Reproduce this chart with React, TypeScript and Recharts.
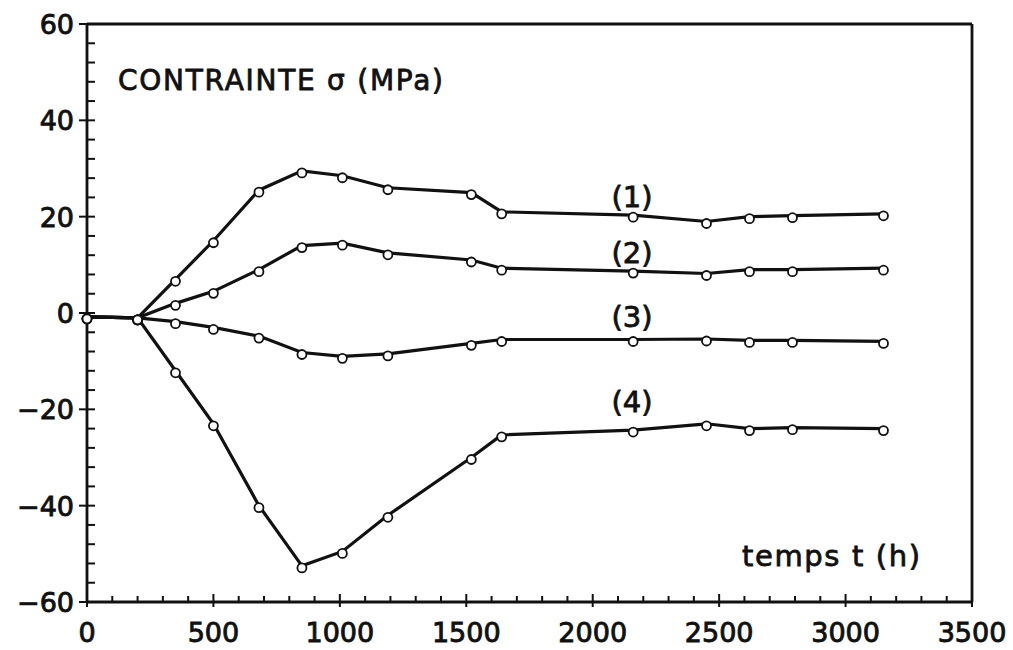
import { LineChart, Line, XAxis, YAxis, ReferenceLine } from "recharts";

// temps t (h)
const times = [0, 200, 350, 500, 680, 850, 1010, 1190, 1520, 1640, 2160, 2450, 2620, 2790, 3150];
// contrainte (MPa) for the four curves
const curve1 = [-0.8, -1, 7, 15, 25.5, 29.5, 28.5, 26, 25, 21, 20.3, 19, 20, 20.2, 20.6];
const curve2 = [-0.8, -1, 2, 4.5, 9, 14, 14.5, 12.5, 11, 9.3, 8.7, 8.2, 9, 9, 9.3];
const curve3 = [-0.8, -1, -1.8, -3, -4.8, -8.2, -9, -8.5, -6.3, -5.5, -5.5, -5.4, -5.7, -5.7, -5.9];
const curve4 = [-0.8, -1, -12, -23, -40, -52.5, -49.5, -42, -30, -25.3, -24.3, -23, -24, -23.8, -24];

const xMajor = [0, 500, 1000, 1500, 2000, 2500, 3000, 3500];
const yMajor = [-60, -40, -20, 0, 20, 40, 60];
const xTicks = Array.from({ length: 36 }, (_, i) => i * 100);
const yTicks = Array.from({ length: 31 }, (_, i) => -60 + i * 4);

const data = times.map((t, i) => ({
  t,
  c1: curve1[i],
  c2: curve2[i],
  c3: curve3[i],
  c4: curve4[i],
}));

const FONT = "'DejaVu Sans', sans-serif";
const INK = "#111";

const fmt = (v: number) => (v < 0 ? `\u2212${Math.abs(v)}` : `${v}`);

const XTick = ({ x, y, payload }: any) => {
  const major = xMajor.includes(payload.value);
  return (
    <g>
      <line x1={x} x2={x} y1={major ? y + 5 : y} y2={major ? y - 8 : y - 6} stroke={INK} strokeWidth={2} />
      {major && (
        <text x={x} y={y + 40} textAnchor="middle" fontFamily={FONT} fontSize={27} fill={INK} stroke={INK} strokeWidth={0.9}>
          {payload.value}
        </text>
      )}
    </g>
  );
};

const YTick = ({ x, y, payload }: any) => {
  const major = yMajor.includes(payload.value);
  return (
    <g>
      <line x1={major ? x - 8 : x} x2={x + 8} y1={y} y2={y} stroke={INK} strokeWidth={2} />
      {major && (
        <text x={x - 13} y={y + 10} textAnchor="end" fontFamily={FONT} fontSize={27} fill={INK} stroke={INK} strokeWidth={0.9}>
          {fmt(payload.value)}
        </text>
      )}
    </g>
  );
};

const OpenDot = (props: any) => {
  const { cx, cy, index } = props;
  if (cx == null || cy == null) return <g key={index} />;
  return <circle key={index} cx={cx} cy={cy + 2} r={4.5} fill="#fff" stroke={INK} strokeWidth={1.8} />;
};

const labelStyle = { fontFamily: FONT, fontSize: 29, fill: INK, stroke: INK, strokeWidth: 0.8 };

export default function App() {
  const series = ["c1", "c2", "c3", "c4"];
  return (
    <div style={{ position: "absolute", left: 0, top: 0, width: 1013, height: 650, background: "#fff" }}>
      <LineChart width={1013} height={650} data={data} margin={{ top: 24, right: 41, bottom: 0, left: 0 }}>
        <XAxis
          dataKey="t"
          type="number"
          domain={[0, 3500]}
          ticks={xTicks}
          interval={0}
          tickSize={0}
          tickMargin={0}
          tickLine={false}
          height={48}
          stroke={INK}
          strokeWidth={2.8}
          tick={<XTick />}
        />
        <YAxis
          type="number"
          domain={[-60, 60]}
          ticks={yTicks}
          interval={0}
          tickSize={0}
          tickMargin={0}
          tickLine={false}
          width={87}
          stroke={INK}
          strokeWidth={2.8}
          tick={<YTick />}
        />
        <ReferenceLine y={60} stroke={INK} strokeWidth={2.8} />
        <ReferenceLine x={3500} stroke={INK} strokeWidth={2.8} />
        {series.map((k) => (
          <Line
            key={k}
            dataKey={k}
            type="linear"
            stroke={INK}
            strokeWidth={3.2}
            dot={<OpenDot />}
            activeDot={false}
            isAnimationActive={false}
          />
        ))}
      </LineChart>
      <svg width={1013} height={650} style={{ position: "absolute", left: 0, top: 0, pointerEvents: "none" }}>
        <text x={118} y={90} fontFamily={FONT} fontSize={28} fill={INK} stroke={INK} strokeWidth={0.8} textLength={325} lengthAdjust="spacing">
          CONTRAINTE σ (MPa)
        </text>
        <text x={742} y={566} {...labelStyle} textLength={178} lengthAdjust="spacing">
          temps t (h)
        </text>
        <text x={632} y={207} textAnchor="middle" {...labelStyle}>(1)</text>
        <text x={632} y={263} textAnchor="middle" {...labelStyle}>(2)</text>
        <text x={632} y={327} textAnchor="middle" {...labelStyle}>(3)</text>
        <text x={632} y={412} textAnchor="middle" {...labelStyle}>(4)</text>
      </svg>
    </div>
  );
}
